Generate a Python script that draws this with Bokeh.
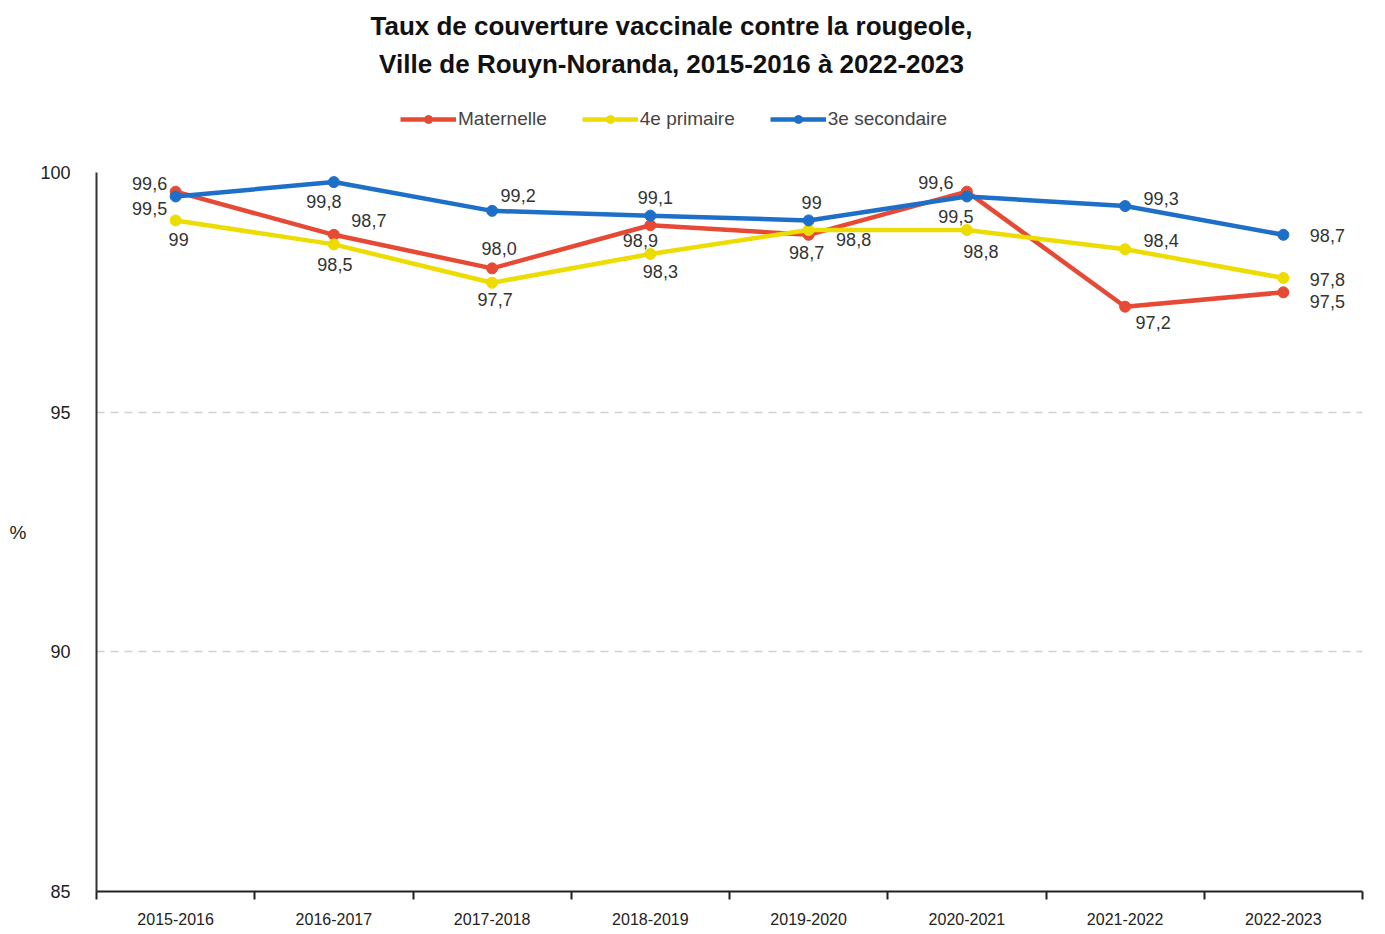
from bokeh.plotting import figure
from bokeh.layouts import column
from bokeh.models import (ColumnDataSource, FixedTicker, Legend, LegendItem, Range1d)
from bokeh.core.properties import value
from bokeh.embed import file_html
from bokeh.resources import INLINE

# ---- data ----
periods = ["2015-2016", "2016-2017", "2017-2018", "2018-2019",
           "2019-2020", "2020-2021", "2021-2022", "2022-2023"]
maternelle = [99.6, 98.7, 98.0, 98.9, 98.7, 99.6, 97.2, 97.5]
primaire4 = [99.0, 98.5, 97.7, 98.3, 98.8, 98.8, 98.4, 97.8]
secondaire3 = [99.5, 99.8, 99.2, 99.1, 99.0, 99.5, 99.3, 98.7]
maternelle_lbl = ["99,6", "98,7", "98,0", "98,9", "98,7", "99,6", "97,2", "97,5"]
primaire4_lbl = ["99", "98,5", "97,7", "98,3", "98,8", "98,8", "98,4", "97,8"]
secondaire3_lbl = ["99,5", "99,8", "99,2", "99,1", "99", "99,5", "99,3", "98,7"]
series_names = ["Maternelle", "4e primaire", "3e secondaire"]
y_ticks = [85, 90, 95, 100]
title_lines = ["Taux de couverture vaccinale contre la rougeole,",
               "Ville de Rouyn-Noranda, 2015-2016 à 2022-2023"]

# ---- label placement (pixel offsets, screen: +x right, +y down) ----
mat_off = [(-26, -8), (35, -14), (7, -20), (-10, 15), (-2, 18), (-31, -9), (28, 16), (44, 9)]
pri_off = [(3, 19), (1, 20), (3, 17), (10, 18), (45, 9), (14, 21), (36, -9), (44, 2)]
sec_off = [(-26, 12), (-10, 19), (26, -15), (5, -18), (3, -18), (-11, 20), (36, -8), (44, 1)]

RED = "#E64A35"
YELLOW = "#EDDC00"
BLUE = "#1E6FC8"
TXT = "#333333"
FONT = "Liberation Sans"
W = 1385
HEAD_H = 160
FL, FR = 96, 1362   # frame left / right (page px)

n = len(periods)
xs = [i + 0.5 for i in range(n)]

# ---------------- header (title + legend) ----------------
h = figure(width=W, height=HEAD_H, output_backend="svg", toolbar_location=None,
           x_range=Range1d(FL, FR), y_range=Range1d(HEAD_H, 0),
           x_axis_type=None, y_axis_type=None,
           min_border_left=FL, min_border_right=W - FR,
           min_border_top=0, min_border_bottom=0,
           outline_line_color=None)
h.xgrid.grid_line_color = None
h.ygrid.grid_line_color = None

tsrc = ColumnDataSource(dict(x=[671, 671], y=[25, 63], t=title_lines))
h.text("x", "y", text="t", source=tsrc, text_font=value(FONT),
       text_font_size="26px", text_font_style="bold", text_color="#111111",
       text_align="center", text_baseline="middle")

colors = [RED, YELLOW, BLUE]
items = []
for name, col in zip(series_names, colors):
    esrc = ColumnDataSource(dict(x=[float("nan")], y=[float("nan")]))
    r1 = h.line("x", "y", source=esrc, line_color=col, line_width=4.5)
    r2 = h.scatter("x", "y", source=esrc, marker="circle", size=8,
                   fill_color=col, line_color=col)
    items.append(LegendItem(label=name, renderers=[r1, r2]))

legend = Legend(items=items, orientation="horizontal", location=(400 - FL, 30),
                glyph_width=56, glyph_height=20, label_standoff=2, spacing=35,
                padding=0, margin=0, border_line_color=None,
                background_fill_alpha=0,
                label_text_font=FONT, label_text_font_size="19px",
                label_text_color="#444444")
h.add_layout(legend, "center")

# ---------------- main chart ----------------
p = figure(width=W, height=769, output_backend="svg", toolbar_location=None,
           x_range=Range1d(0, n), y_range=Range1d(85, 100),
           min_border_left=FL, min_border_right=W - FR, min_border_top=12,
           min_border_bottom=38, outline_line_color=None)

p.xaxis.ticker = FixedTicker(ticks=xs, minor_ticks=list(range(n + 1)))
p.xaxis.major_label_overrides = {x: lab for x, lab in zip(xs, periods)}
p.xaxis.major_tick_line_color = None
p.xaxis.minor_tick_out = 8
p.xaxis.minor_tick_in = 0
p.xaxis.minor_tick_line_color = "#222222"
p.xaxis.minor_tick_line_width = 2
p.xaxis.axis_line_color = "#222222"
p.xaxis.axis_line_width = 2
p.xaxis.major_label_text_font = FONT
p.xaxis.major_label_text_font_size = "16px"
p.xaxis.major_label_text_color = "#222222"
p.xaxis.major_label_standoff = 13

p.yaxis.ticker = FixedTicker(ticks=y_ticks)
p.yaxis.major_tick_line_color = None
p.yaxis.minor_tick_line_color = None
p.yaxis.axis_line_color = "#333333"
p.yaxis.axis_line_width = 2
p.yaxis.major_label_text_font = FONT
p.yaxis.major_label_text_font_size = "18px"
p.yaxis.major_label_text_color = "#222222"
p.yaxis.major_label_standoff = 20
p.yaxis.axis_label = "%"
p.yaxis.axis_label_orientation = "horizontal"
p.yaxis.axis_label_standoff = 11
p.yaxis.axis_label_text_font = FONT
p.yaxis.axis_label_text_font_size = "19px"
p.yaxis.axis_label_text_font_style = "normal"
p.yaxis.axis_label_text_color = "#222222"

p.xgrid.grid_line_color = None
p.ygrid.ticker = FixedTicker(ticks=[90, 95, 100])
p.ygrid.grid_line_color = "#D0D0D0"
p.ygrid.grid_line_dash = "8 6"
p.ygrid.grid_line_width = 1.5

series = [
    (maternelle, maternelle_lbl, mat_off, RED),
    (primaire4, primaire4_lbl, pri_off, YELLOW),
    (secondaire3, secondaire3_lbl, sec_off, BLUE),
]

for vals, lbls, offs, col in series:
    src = ColumnDataSource(dict(x=xs, y=vals))
    p.line("x", "y", source=src, line_color=col, line_width=4.5)
    p.scatter("x", "y", source=src, marker="circle", size=11,
              fill_color=col, line_color=col)

for vals, lbls, offs, col in series:
    src = ColumnDataSource(dict(x=xs, y=vals, lbl=lbls,
                                xo=[o[0] for o in offs], yo=[o[1] for o in offs]))
    p.text("x", "y", text="lbl", source=src, x_offset="xo", y_offset="yo",
           text_font=value(FONT), text_font_size="18px", text_color=TXT,
           text_align="center", text_baseline="middle")

layout = column(h, p, spacing=0)
open("out.html", "w").write(file_html(layout, INLINE))
